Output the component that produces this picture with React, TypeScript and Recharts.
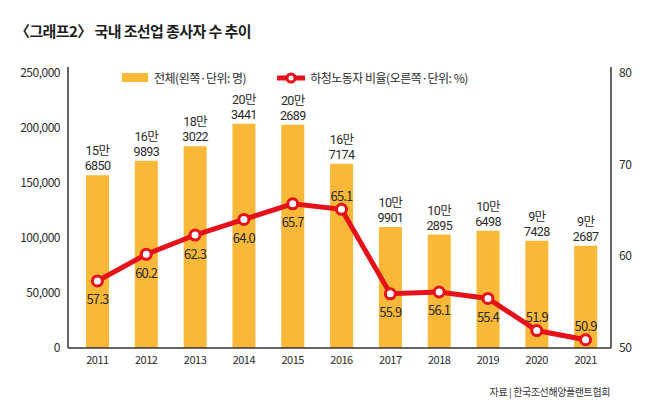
import React from "react"
import {
  Bar,
  ComposedChart,
  LabelList,
  Line,
  XAxis,
  YAxis,
} from "recharts"

const years = ["2011", "2012", "2013", "2014", "2015", "2016", "2017", "2018", "2019", "2020", "2021"]
const workers = [156850, 169893, 183022, 203441, 202689, 167174, 109901, 102895, 106498, 97428, 92687]
const subcontractRatio = [57.3, 60.2, 62.3, 64.0, 65.7, 65.1, 55.9, 56.1, 55.4, 51.9, 50.9]
// which ratio labels sit above their point instead of below
const ratioLabelAbove = [false, false, false, false, false, true, false, false, false, true, true]
const leftTicks = [0, 50000, 100000, 150000, 200000, 250000]
const rightTicks = [50, 60, 70, 80]

const FONT = "'Noto Sans CJK KR', 'Noto Sans', sans-serif"
const NUM_FONT = "Roboto, 'Noto Sans CJK KR', sans-serif"
const BAR_COLOR = "#F9B838"
const LINE_COLOR = "#E5121B"
const TEXT_COLOR = "#2a2a2a"

const data = years.map((year, i) => ({
  year,
  workers: workers[i],
  ratio: subcontractRatio[i],
  above: ratioLabelAbove[i],
}))

// "15만 / 6850" style two-line label above each bar
const BarValueLabel = (props: any) => {
  const { x, y, width, value } = props
  const man = Math.floor(value / 10000)
  const rest = value % 10000
  const cx = x + width / 2
  return (
    <g fontFamily={NUM_FONT} fontSize={12.5} fill={TEXT_COLOR} textAnchor="middle" letterSpacing={-0.6}>
      <text x={cx} y={y - 20}>{`${man}만`}</text>
      <text x={cx} y={y - 5}>{rest}</text>
    </g>
  )
}

const RatioLabel = (props: any) => {
  const { x, y, value, index } = props
  const above = data[index].above
  return (
    <text
      x={x}
      y={above ? y - 14 : y + 18}
      textAnchor="middle"
      dominantBaseline="central"
      fontFamily={FONT}
      fontSize={13}
      letterSpacing={-0.8}
      fill={TEXT_COLOR}
    >
      {value.toFixed(1)}
    </text>
  )
}

const ChartLegend = () => (
  <div
    style={{
      position: "absolute",
      left: 122,
      top: 69,
      display: "flex",
      alignItems: "center",
      fontFamily: FONT,
      fontSize: 12,
      color: TEXT_COLOR,
      letterSpacing: -0.5,
    }}
  >
    <span style={{ display: "inline-block", width: 26, height: 9, background: BAR_COLOR, marginRight: 6 }} />
    <span style={{ marginRight: 31 }}>전체(왼쪽·단위: 명)</span>
    <svg width={28} height={12} style={{ marginRight: 5 }}>
      <line x1={0} y1={6} x2={28} y2={6} stroke={LINE_COLOR} strokeWidth={5} />
      <circle cx={14} cy={6} r={4} fill="#fff" stroke={LINE_COLOR} strokeWidth={3} />
    </svg>
    <span>하청노동자 비율(오른쪽·단위: %)</span>
  </div>
)

export default function App() {
  const tickStyle = { fontFamily: FONT, fontSize: 12, fill: TEXT_COLOR, letterSpacing: -0.5 }
  return (
    <div style={{ position: "absolute", left: 0, top: 0, width: 650, height: 404, background: "#fff" }}>
      <div
        style={{
          position: "absolute",
          left: 15,
          top: 20,
          fontFamily: FONT,
          fontWeight: 700,
          fontSize: 15,
          letterSpacing: -0.6,
          color: "#1e1e1e",
        }}
      >
        〈그래프2〉 국내 조선업 종사자 수 추이
      </div>
      <ComposedChart
        width={650}
        height={404}
        data={data}
        margin={{ top: 67, right: 0, bottom: 26, left: 8 }}
        barSize={23}
      >
        <XAxis
          dataKey="year"
          axisLine={{ stroke: "#333", strokeWidth: 1.5 }}
          tickLine={false}
          tick={{ ...tickStyle, fontSize: 11 }}
          padding={{ left: 5, right: 1 }}
          interval={0}
          height={30}
        />
        <YAxis
          yAxisId="left"
          domain={[0, 255000]}
          ticks={leftTicks}
          tickFormatter={(v: number) => v.toLocaleString("en-US")}
          axisLine={{ stroke: "#333", strokeWidth: 1.5 }}
          tickLine={false}
          tick={tickStyle}
          width={60}
        />
        <YAxis
          yAxisId="right"
          orientation="right"
          domain={[50, 80.6]}
          ticks={rightTicks}
          axisLine={{ stroke: "#333", strokeWidth: 1.5 }}
          tickLine={false}
          tick={{ ...tickStyle, textAnchor: "start" }}
          width={39}
        />
        <Bar yAxisId="left" dataKey="workers" fill={BAR_COLOR} isAnimationActive={false}>
          <LabelList dataKey="workers" content={<BarValueLabel />} />
        </Bar>
        <Line
          yAxisId="right"
          dataKey="ratio"
          stroke={LINE_COLOR}
          strokeWidth={5}
          dot={{ r: 5, fill: "#fff", stroke: LINE_COLOR, strokeWidth: 3 }}
          activeDot={false}
          isAnimationActive={false}
        >
          <LabelList dataKey="ratio" content={<RatioLabel />} />
        </Line>
      </ComposedChart>
      <ChartLegend />
      <div
        style={{
          position: "absolute",
          right: 40,
          top: 384,
          fontFamily: FONT,
          fontSize: 10,
          letterSpacing: -0.4,
          color: "#333",
        }}
      >
        자료 | 한국조선해양플랜트협회
      </div>
    </div>
  )
}
